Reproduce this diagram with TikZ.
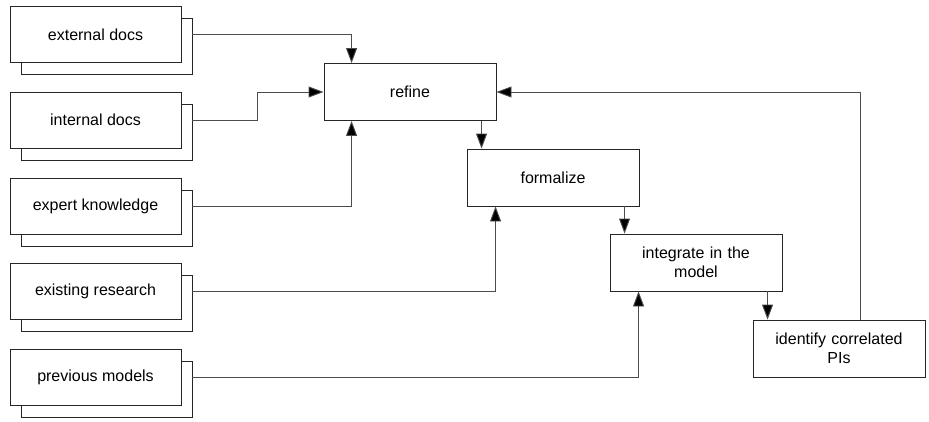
\documentclass[tikz,border=0pt]{standalone}
\usepackage{fontspec}
\setmainfont{Liberation Sans}
\usetikzlibrary{arrows.meta}
\begin{document}
\begin{tikzpicture}[x=1pt,y=-1pt,
  every node/.style={font=\fontsize{16}{18.5}\selectfont},
  box/.style={draw=black!85,line width=0.9pt,fill=white,rectangle,
    minimum width=172pt,minimum height=57pt,inner sep=2pt,align=center,
    text width=165pt},
  srcback/.style={draw=black!85,line width=0.9pt,fill=white,rectangle,
    minimum width=171pt,minimum height=56pt,inner sep=0pt},
  srcfront/.style={srcback},
  flow/.style={draw=black!70,line width=0.9pt,
    -{Triangle[length=15pt,width=11pt,fill=black]}}]
\useasboundingbox (0,0) rectangle (929,421);

% stacked source documents
\foreach \nm/\cy/\txt in {ext/34.5/external docs,int/120/internal docs,
    exp/206/expert knowledge,res/291.5/existing research,prev/377.5/previous models}{
  \node[srcback] (\nm b) at (106.5,\cy+12) {};
  \node[srcfront] (\nm) at (95.5,\cy) {\txt};
}

% process steps
\node[box] (refine) at (410,92) {refine};
\node[box] (formalize) at (553,177.5) {formalize};
\node[box] (integrate) at (696,262.5) {integrate in the\\model};
\node[box] (identify) at (839,348.5) {identify correlated\\PIs};

% arrow entry points on the step boxes
\coordinate (fin) at ([xshift=15pt]formalize.north west);
\coordinate (iin) at ([xshift=15pt]integrate.north west);
\coordinate (din) at ([xshift=15pt]identify.north west);
\coordinate (dout) at ([xshift=108pt]identify.north west);

% inputs
\draw[flow] (ext.center -| extb.east) -| ([xshift=28pt]refine.north west);
\draw[flow] (int.center -| intb.east) -- ++(65,0) |- (refine.west);
\draw[flow] (exp.center -| expb.east) -| ([xshift=28pt]refine.south west);
\draw[flow] (res.center -| resb.east) -| ([xshift=29pt]formalize.south west);
\draw[flow] (prev.center -| prevb.east) -| ([xshift=29pt]integrate.south west);

% step sequence
\draw[flow] (refine.south -| fin) -- (fin);
\draw[flow] (formalize.south -| iin) -- (iin);
\draw[flow] (integrate.south -| din) -- (din);

% feedback loop
\draw[flow] (dout) |- (refine.east);
\end{tikzpicture}
\end{document}
